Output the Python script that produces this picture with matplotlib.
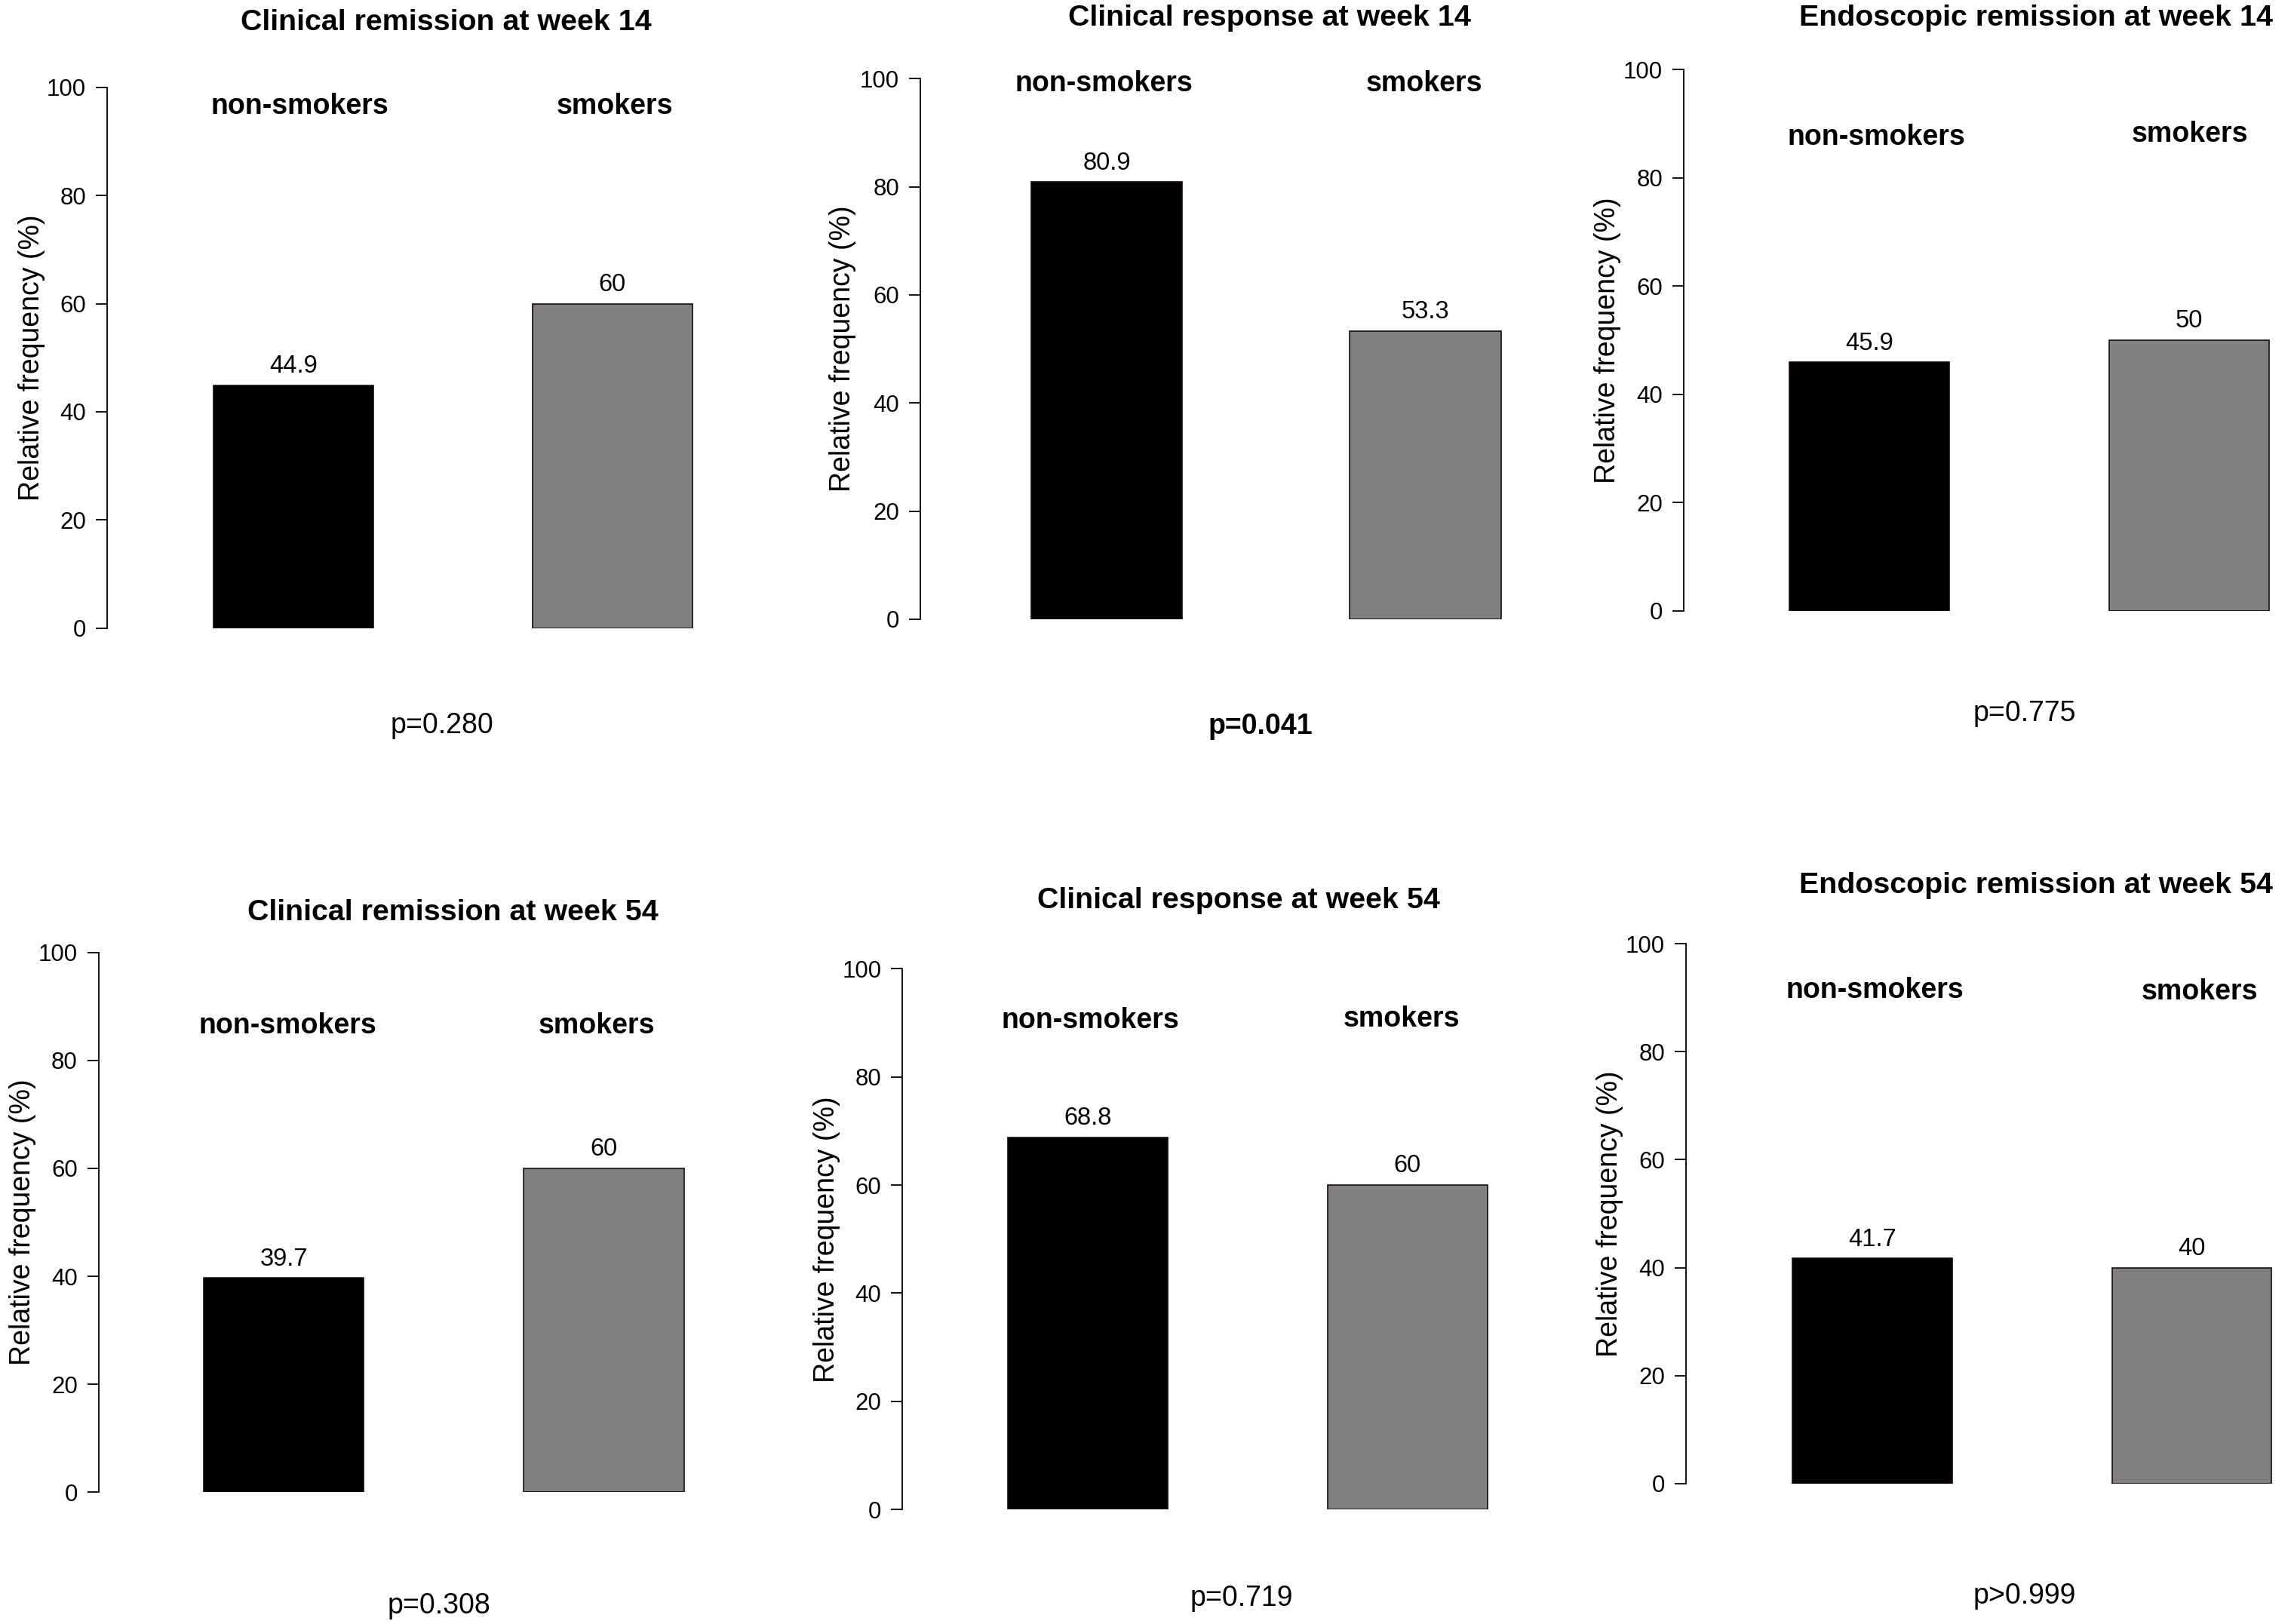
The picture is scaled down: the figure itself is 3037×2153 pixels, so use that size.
import matplotlib
matplotlib.use("Agg")
import matplotlib.pyplot as plt

plt.rcParams['font.family'] = ['Liberation Sans', 'DejaVu Sans']

# ---------------- data ----------------
titles = ["Clinical remission at week 14", "Clinical response at week 14",
          "Endoscopic remission at week 14", "Clinical remission at week 54",
          "Clinical response at week 54", "Endoscopic remission at week 54"]
groups = ["non-smokers", "smokers"]
nonsmokers_pct = [44.9, 80.9, 45.9, 39.7, 68.8, 41.7]
smokers_pct = [60, 53.3, 50, 60, 60, 40]
p_labels = ["p=0.280", "p=0.041", "p=0.775", "p=0.308", "p=0.719", "p>0.999"]
p_bold = [False, True, False, False, False, False]
yticks = [0, 20, 40, 60, 80, 100]
bar_colors = ["#000000", "#808080"]

# ---------------- layout (pixels in a 3037x2153 canvas) ----------------
W, H = 3037, 2153
layout = [
    dict(spine=142.0, y0=832.6, y100=115.8, c1=388.7, unit=211.6, bw=1.0,
         title=(591, 30), lab_x=(397, 814.5), lab_y=(141, 141), p=(586, 962), ylab_x=41.7),
    dict(spine=1220.0, y0=821.0, y100=104.3, c1=1467.0, unit=211.25, bw=0.947,
         title=(1683, 24), lab_x=(1463, 1888), lab_y=(111, 111), p=(1671, 963), ylab_x=1117),
    dict(spine=2231.7, y0=809.6, y100=92.2, c1=2477.9, unit=211.9, bw=1.0,
         title=(2699, 24), lab_x=(2487, 2903), lab_y=(182, 178), p=(2684, 946), ylab_x=2131),
    dict(spine=130.6, y0=1978.2, y100=1262.7, c1=376.3, unit=212.1, bw=1.0,
         title=(600, 1210), lab_x=(381, 791), lab_y=(1360, 1360), p=(582, 2129), ylab_x=30.3),
    dict(spine=1196.1, y0=2001.1, y100=1284.3, c1=1441.9, unit=211.9, bw=1.0,
         title=(1642, 1194), lab_x=(1445, 1858), lab_y=(1353, 1351), p=(1646, 2119), ylab_x=1096),
    dict(spine=2234.9, y0=1966.7, y100=1251.2, c1=2481.7, unit=211.9, bw=1.0,
         title=(2699, 1174), lab_x=(2485, 2916), lab_y=(1313, 1315), p=(2684, 2116), ylab_x=2134),
]

fig = plt.figure(figsize=(W / 100, H / 100), dpi=100)
fig.patch.set_facecolor("white")

def fx(px):
    return px / W

def fy(py):
    return 1 - py / H

positions = [1, 3]
for i, L in enumerate(layout):
    u = L["unit"]
    xlim_left = 1 - (L["c1"] - L["spine"]) / u
    xlim_right = 4.0
    width_px = (xlim_right - xlim_left) * u
    ax = fig.add_axes([fx(L["spine"]), fy(L["y0"]), width_px / W, (L["y0"] - L["y100"]) / H])
    vals = [nonsmokers_pct[i], smokers_pct[i]]
    ax.bar(positions, vals, width=L["bw"], color=bar_colors, edgecolor="#1a0a0a", linewidth=1.2)
    for x, v in zip(positions, vals):
        ax.text(x, v + 3.5, f"{v:g}", ha="center", va="center", fontsize=23.5)
    ax.set_xlim(xlim_left, xlim_right)
    ax.set_ylim(0, 100)
    ax.set_yticks(yticks)
    ax.set_yticklabels([str(t) for t in yticks], fontsize=22.5)
    ax.set_xticks([])
    for s in ["top", "right", "bottom"]:
        ax.spines[s].set_visible(False)
    ax.spines["left"].set_linewidth(1.3)
    ax.tick_params(axis="y", length=11, width=1.3, pad=9)
    ax.patch.set_alpha(0)

    # texts
    fig.text(fx(L["title"][0]), fy(L["title"][1]), titles[i], ha="center", va="center",
             fontsize=28.4, fontweight="bold")
    for g, gx, gy in zip(groups, L["lab_x"], L["lab_y"]):
        fig.text(fx(gx), fy(gy), g, ha="center", va="center", fontsize=27, fontweight="bold")
    fig.text(fx(L["p"][0]), fy(L["p"][1]), p_labels[i], ha="center", va="center",
             fontsize=27, fontweight="bold" if p_bold[i] else "normal")
    fig.text(fx(L["ylab_x"]), fy((L["y0"] + L["y100"]) / 2), "Relative frequency (%)",
             ha="center", va="center", rotation=90, rotation_mode="anchor", fontsize=27)

fig.savefig("out.png", dpi=100, facecolor="white")
